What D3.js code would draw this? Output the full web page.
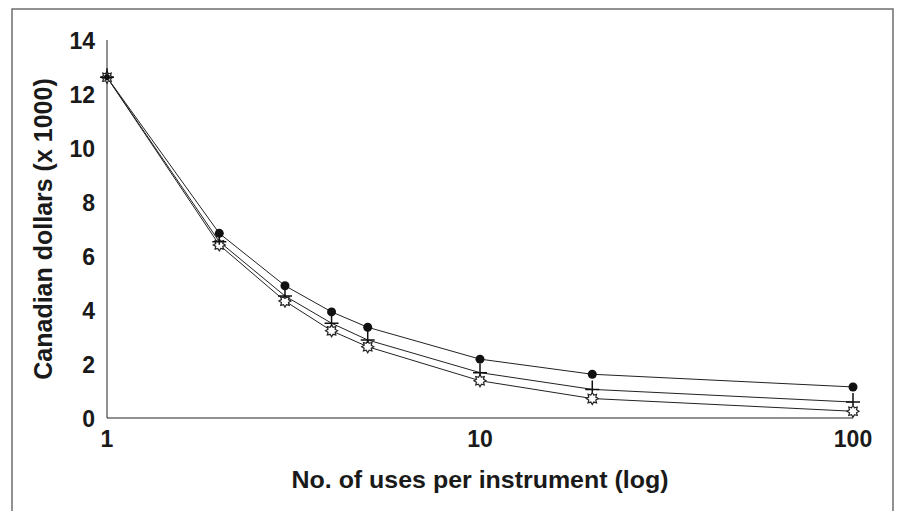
<!DOCTYPE html>
<html>
<head>
<meta charset="utf-8">
<script src="https://cdn.jsdelivr.net/npm/d3@7"></script>
<style>
    body { margin: 0; background: #fff; }
    svg text { font-family: "Liberation Sans", Arial, sans-serif; font-weight: bold; fill: #1a1a1a; }
</style>
</head>
<body>
<svg id="chart" width="898" height="511"></svg>
<script>
(function () {
    'use strict';

    // --- Data ----------------------------------------------------------
    var uses = [1, 2, 3, 4, 5, 10, 20, 100];
    var seriesDots = [12.62, 6.84, 4.9, 3.93, 3.36, 2.18, 1.62, 1.15];
    var seriesPlus = [12.62, 6.53, 4.52, 3.51, 2.89, 1.68, 1.06, 0.59];
    var seriesStar = [12.62, 6.41, 4.33, 3.23, 2.64, 1.38, 0.72, 0.25];
    var xTicks = [1, 10, 100];
    var yTicks = [0, 2, 4, 6, 8, 10, 12, 14];

    var svg = d3.select('#chart');

    // --- Frame ---------------------------------------------------------
    svg.append('path')
        .attr('d', 'M12,520 L12,9 L893,9 L893,520')
        .attr('fill', 'none')
        .attr('stroke', '#6e6e6e')
        .attr('stroke-width', 1.5);

    // --- Scales --------------------------------------------------------
    var x = d3.scaleLog().domain([1, 100]).range([107, 853]);
    var y = d3.scaleLinear().domain([0, 14]).range([418, 40]);

    // axes lines (no tick marks in the original)
    svg.append('line')
        .attr('x1', x(1)).attr('x2', x(1))
        .attr('y1', y(14)).attr('y2', y(0))
        .attr('stroke', '#222').attr('stroke-width', 1);
    svg.append('line')
        .attr('x1', x(1)).attr('x2', x(100))
        .attr('y1', y(0)).attr('y2', y(0))
        .attr('stroke', '#222').attr('stroke-width', 1);

    svg.selectAll('text.ytick').data(yTicks).enter().append('text')
        .attr('class', 'ytick')
        .attr('x', 95)
        .attr('y', function (d) { return y(d) + 9; })
        .attr('text-anchor', 'end')
        .style('font-size', '23px')
        .text(function (d) { return d; });

    svg.selectAll('text.xtick').data(xTicks).enter().append('text')
        .attr('class', 'xtick')
        .attr('x', function (d) { return x(d); })
        .attr('y', 447)
        .attr('text-anchor', 'middle')
        .style('font-size', '23px')
        .text(function (d) { return d; });

    svg.append('text')
        .attr('transform', 'translate(' + x(10) + ',488) scale(1.04,1)')
        .attr('text-anchor', 'middle')
        .style('font-size', '24px')
        .text('No. of uses per instrument (log)');

    svg.append('text')
        .attr('transform', 'translate(52,' + y(7) + ') scale(1.05,1) rotate(-90)')
        .attr('text-anchor', 'middle')
        .style('font-size', '25px')
        .text('Canadian dollars (x 1000)');

    // --- Lines ---------------------------------------------------------
    var line = d3.line()
        .x(function (d, i) { return x(uses[i]); })
        .y(function (d) { return y(d); });

    [seriesDots, seriesPlus, seriesStar].forEach(function (s) {
        svg.append('path')
            .attr('d', line(s))
            .attr('fill', 'none')
            .attr('stroke', '#222')
            .attr('stroke-width', 1);
    });

    // --- Markers -------------------------------------------------------
    // open "sun" star
    seriesStar.forEach(function (v, i) {
        var pts = [];
        for (var k = 0; k < 16; k++) {
            var a = Math.PI * k / 8;
            var r = (k % 2 === 0) ? 6 : 3.8;
            pts.push([r * Math.sin(a), -r * Math.cos(a)]);
        }
        svg.append('path')
            .attr('transform', 'translate(' + x(uses[i]) + ',' + y(v) + ')')
            .attr('d', 'M' + pts.join('L') + 'Z')
            .attr('fill', '#fff')
            .attr('stroke', '#222')
            .attr('stroke-width', 1.2);
    });

    // plus with a longer upper stem
    seriesPlus.forEach(function (v, i) {
        var cx = x(uses[i]), cy = y(v);
        svg.append('path')
            .attr('d', 'M' + (cx - 7) + ',' + cy + 'H' + (cx + 7) +
                'M' + cx + ',' + (cy - 9) + 'V' + (cy + 3))
            .attr('stroke', '#111')
            .attr('stroke-width', 1.5)
            .attr('fill', 'none');
    });

    svg.selectAll('circle.dot').data(seriesDots).enter().append('circle')
        .attr('class', 'dot')
        .attr('cx', function (d, i) { return x(uses[i]); })
        .attr('cy', function (d) { return y(d); })
        .attr('r', function (d, i) { return i === 0 ? 3 : 4.5; })
        .attr('fill', '#111');
}());
</script>
</body>
</html>
